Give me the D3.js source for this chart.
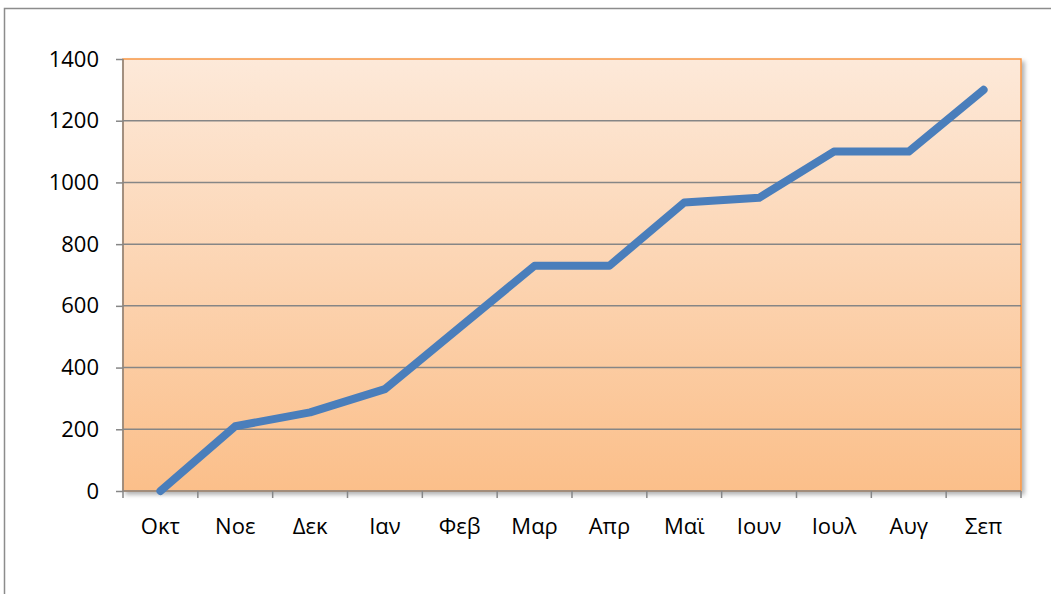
<!DOCTYPE html>
<html>
<head>
  <meta charset="utf-8">
  <script src="https://d3js.org/d3.v7.min.js"></script>
  <style>
    body { margin: 0; background: #fff; }
    .tick text { font-family: "Open Sans", "Noto Sans", sans-serif; font-size: 22px; fill: #000; }
    .domain { display: none; }
  </style>
</head>
<body>
  <svg width="1051" height="594"></svg>
  <script>
    const months = ['Οκτ', 'Νοε', 'Δεκ', 'Ιαν', 'Φεβ', 'Μαρ', 'Απρ', 'Μαϊ', 'Ιουν', 'Ιουλ', 'Αυγ', 'Σεπ'];
    const values = [0, 210, 255, 330, 530, 730, 730, 935, 950, 1100, 1100, 1300];
    const yTicks = [0, 200, 400, 600, 800, 1000, 1200, 1400];

    const margin = { left: 123, right: 30, top: 59, bottom: 103 };
    const svg = d3.select('svg');
    const width = +svg.attr('width');
    const height = +svg.attr('height');
    const innerWidth = width - margin.left - margin.right;
    const innerHeight = height - margin.top - margin.bottom;

    // outer frame (its right and bottom edges run past the picture)
    svg.append('path')
      .attr('d', `M${width},8.5 H4.5 V${height}`)
      .attr('fill', 'none')
      .attr('stroke', '#8c8c8c')
      .attr('stroke-width', 1.5);

    const defs = svg.append('defs');
    const grad = defs.append('linearGradient')
      .attr('id', 'bg').attr('x1', 0).attr('y1', 0).attr('x2', 0).attr('y2', 1);
    grad.append('stop').attr('offset', '0%').attr('stop-color', '#fde9d9');
    grad.append('stop').attr('offset', '100%').attr('stop-color', '#fbbf8a');

    const shadow = defs.append('filter').attr('id', 'shadow')
      .attr('x', '-5%').attr('y', '-5%').attr('width', '110%').attr('height', '110%');
    shadow.append('feDropShadow')
      .attr('dx', 3).attr('dy', 3).attr('stdDeviation', 2)
      .attr('flood-color', '#000').attr('flood-opacity', 0.3);

    const g = svg.append('g')
      .attr('transform', `translate(${margin.left},${margin.top})`);

    const x = d3.scaleBand().domain(months).range([0, innerWidth]);
    const y = d3.scaleLinear().domain([0, 1400]).range([innerHeight, 0]);

    g.append('rect')
      .attr('width', innerWidth).attr('height', innerHeight)
      .attr('fill', 'url(#bg)')
      .attr('stroke', '#f79646')
      .attr('stroke-width', 1.5)
      .attr('filter', 'url(#shadow)');

    // grid lines
    g.append('g').selectAll('line')
      .data(yTicks.slice(1, -1))
      .join('line')
      .attr('x1', 0).attr('x2', innerWidth)
      .attr('y1', d => y(d)).attr('y2', d => y(d))
      .attr('stroke', '#868686').attr('stroke-width', 1.5);

    const yAxis = d3.axisLeft(y).tickValues(yTicks).tickFormat(d3.format('d'))
      .tickSize(7).tickPadding(17);
    const yAxisG = g.append('g').call(yAxis);
    yAxisG.selectAll('.tick line').attr('stroke', '#868686').attr('stroke-width', 1.5);
    yAxisG.append('line')
      .attr('x1', 0).attr('x2', 0).attr('y1', 0).attr('y2', innerHeight)
      .attr('stroke', '#868686').attr('stroke-width', 1.5);

    const xAxis = d3.axisBottom(x).tickSize(0).tickPadding(27);
    const xAxisG = g.append('g')
      .attr('transform', `translate(0,${innerHeight})`)
      .call(xAxis);
    xAxisG.append('line')
      .attr('x1', 0).attr('x2', innerWidth)
      .attr('stroke', '#868686').attr('stroke-width', 1.5);
    xAxisG.selectAll('.boundary')
      .data(months.concat(['end']))
      .join('line')
      .attr('x1', (d, i) => i < months.length ? x(d) : innerWidth)
      .attr('x2', (d, i) => i < months.length ? x(d) : innerWidth)
      .attr('y1', 0).attr('y2', 7)
      .attr('stroke', '#868686').attr('stroke-width', 1.5);

    const line = d3.line()
      .x((d, i) => x(months[i]) + x.bandwidth() / 2)
      .y(d => y(d));

    g.append('path')
      .datum(values)
      .attr('d', line)
      .attr('fill', 'none')
      .attr('stroke', '#4a7ebb')
      .attr('stroke-width', 8)
      .attr('stroke-linecap', 'round')
      .attr('stroke-linejoin', 'round');
  </script>
</body>
</html>
